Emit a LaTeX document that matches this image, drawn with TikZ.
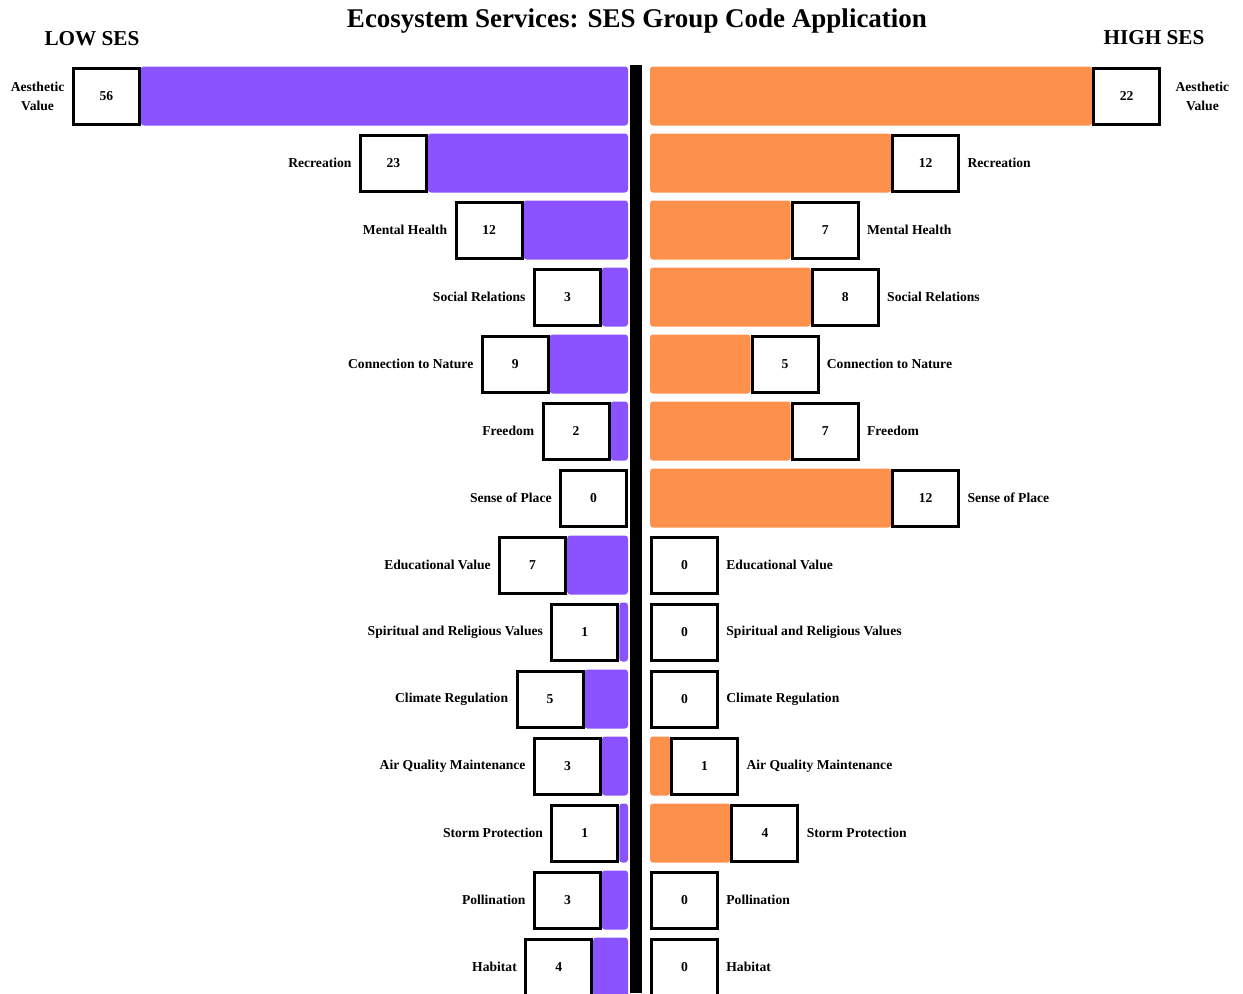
\documentclass[tikz,border=0pt]{standalone}
\usepackage{fontspec}
\setmainfont{Liberation Serif}
\usepackage{tikz}
\usetikzlibrary{positioning}
\definecolor{lowses}{RGB}{139,83,255}
\definecolor{highses}{RGB}{253,145,76}
\tikzstyle{codebox} = [rectangle, draw=black, line width=1.5pt, fill=white, text=black, text centered, font=\bfseries\fontsize{6.8}{8}\selectfont, minimum width=33pt, minimum height=28pt, inner sep=0pt]
\tikzstyle{service} = [text=black, align=center, font=\bfseries\fontsize{6.8}{9.5}\selectfont, inner sep=0pt]
\begin{document}
\begin{tikzpicture}[
  x=0.5pt, y=-0.5pt,
  heading/.style={font=\bfseries\fontsize{#1}{#1}\selectfont, inner sep=0pt}]
  \path[use as bounding box] (0,0) rectangle (1243,993);
  % draw title and group headings
  \node[heading=13.5] (title) at (637,21) {Ecosystem Services: SES Group Code Application};
  \node[heading=10.6] (low) at (92,39) {LOW SES};
  \node[heading=10.6] (high) at (1154,38) {HIGH SES};
  % draw centre axis
  \fill[black] (630,65) rectangle (642,993);
  % draw bars, count boxes and labels for both groups
  \foreach \name/\lo/\hi [count=\row from 0] in {Aesthetic\\Value/56/22, Recreation/23/12, Mental Health/12/7, Social Relations/3/8, Connection to Nature/9/5, Freedom/2/7, Sense of Place/0/12, Educational Value/7/0, Spiritual and Religious Values/1/0, Climate Regulation/5/0, Air Quality Maintenance/3/1, Storm Protection/1/4, Pollination/3/0, Habitat/4/0} {
    \pgfmathsetmacro{\y}{96+67*\row}
    \pgfmathsetmacro{\xl}{628-8.7*\lo}
    \pgfmathsetmacro{\xr}{650+20.1*\hi}
    \pgfmathsetmacro{\gap}{\row==0 ? 7 : 3.5}
    \ifnum\lo>0 \fill[lowses, rounded corners=1.5pt] (\xl,\y-29.5) rectangle (628,\y+29.5); \fi
    \ifnum\hi>0 \fill[highses, rounded corners=1.5pt] (650,\y-29.5) rectangle (\xr,\y+29.5); \fi
    \node[codebox, anchor=east] (lo\row) at (\xl,\y) {\lo};
    \node[service, left=3.5pt of lo\row] (lolab\row) {\name};
    \node[codebox, anchor=west] (hi\row) at (\xr,\y) {\hi};
    \node[service, right=\gap pt of hi\row] (hilab\row) {\name};
  }
\end{tikzpicture}
\end{document}
